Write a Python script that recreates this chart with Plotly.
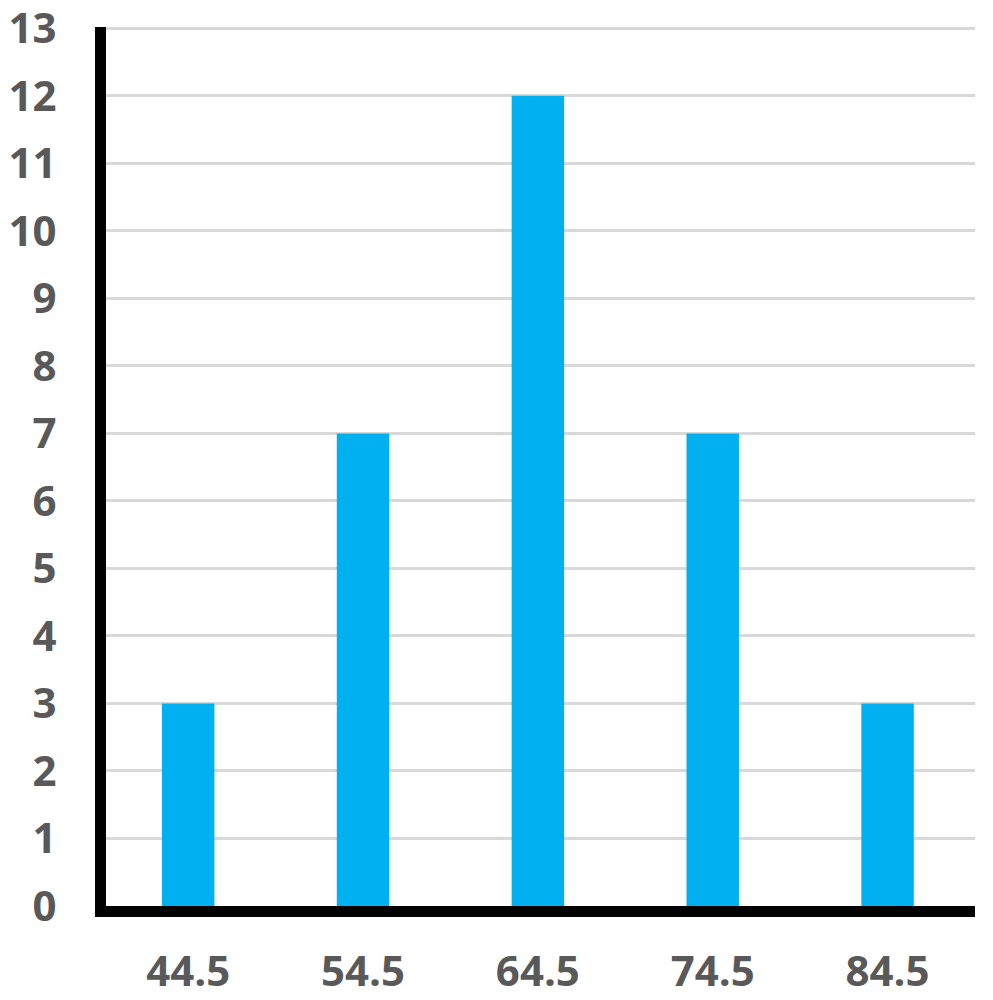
import plotly.graph_objects as go

# class midpoints and frequencies
midpoints = ['44.5', '54.5', '64.5', '74.5', '84.5']
frequency = [3, 7, 12, 7, 3]
y_ticks = list(range(0, 14))

fig = go.Figure(data=[
    go.Bar(
        x=midpoints,
        y=frequency,
        marker_color='#00B0F0',
        marker_line_width=0,
        showlegend=False,
    ),
])

# page body adds ~8px offset, margins compensate for it
layout = go.Layout(
    width=993,
    height=1000,
    plot_bgcolor='white',
    paper_bgcolor='white',
    font_family='Open Sans',
    font_color='#595959',
    font_size=42,
    margin=dict(l=98, r=26, t=19, b=102),
    bargap=0.7,
    xaxis=dict(
        type='category',
        range=[-0.47, 4.5],
        automargin=False,
        showline=True,
        linecolor='black',
        linewidth=11,
        showgrid=False,
        ticks='',
        tickfont=dict(size=42, weight='bold', color='#595959'),
        ticklabelstandoff=19,
        ticklabeloverflow='allow',
    ),
    yaxis=dict(
        range=[0, 13.02],
        tickvals=y_ticks,
        automargin=False,
        showline=True,
        linecolor='black',
        linewidth=11,
        showgrid=True,
        gridcolor='#D9D9D9',
        gridwidth=3,
        zeroline=False,
        ticks='',
        tickfont=dict(size=42, weight='bold', color='#595959'),
        ticklabelstandoff=30,
        ticklabeloverflow='allow',
    ),
)
fig.update_layout(layout)

fig.write_html("out.html")
